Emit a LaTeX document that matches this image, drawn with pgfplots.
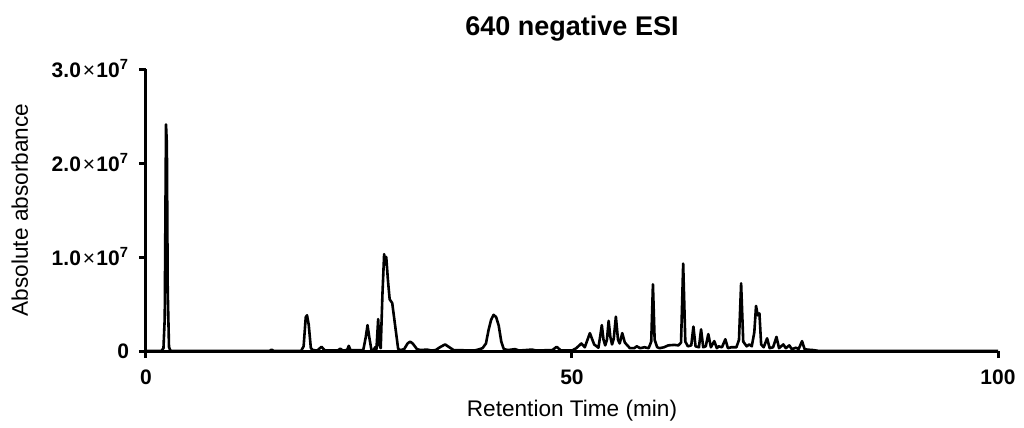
\documentclass[border=0pt]{standalone}
\usepackage{fontspec}
\setmainfont{Liberation Sans}
\usepackage{pgfplots}
\pgfplotsset{compat=1.18}

% chromatogram trace, y in units of 1e6
\pgfplotstableread{
t y
0 0
1.8 0
2.05 0.3
2.2 3.5
2.35 24.1
2.45 22
2.55 6.5
2.7 0.4
2.9 0
14.5 0
14.75 0.15
15 0
18.2 0
18.5 0.5
18.75 3.6
18.9 3.8
19.1 2.8
19.35 0.3
19.6 0.1
20.1 0.05
20.6 0.45
21.0 0.05
22.5 0.05
22.8 0.25
23.1 0.05
23.6 0.1
23.8 0.55
24.0 0.1
25.5 0.1
25.8 1.5
26.0 2.75
26.2 1.5
26.45 0.15
26.7 0.1
26.9 0.4
27.05 0.2
27.25 3.4
27.4 0.6
27.55 0.3
27.75 6.0
27.95 10.3
28.1 9.2
28.2 10.0
28.4 7.5
28.6 5.5
28.9 5.1
29.2 3.0
29.6 0.2
29.9 0.1
30.3 0.2
30.7 0.8
31.0 1.0
31.3 0.8
31.8 0.2
32.2 0.1
33.0 0.15
33.5 0.05
34.0 0.1
34.5 0.4
35.1 0.7
35.6 0.4
36.1 0.1
38.5 0.05
39.0 0.15
39.5 0.3
39.9 0.8
40.2 2.2
40.5 3.3
40.8 3.85
41.1 3.6
41.4 2.7
41.7 1.0
42.0 0.2
42.5 0.1
43.3 0.2
43.8 0.05
45.3 0.15
45.8 0.05
47.7 0.1
48.2 0.45
48.7 0.05
50.0 0.05
50.5 0.3
51.1 0.8
51.5 0.4
52.1 1.9
52.6 0.7
53.1 0.35
53.3 1.5
53.5 2.75
53.7 1.2
53.9 0.6
54.1 1.2
54.3 3.2
54.5 1.5
54.7 0.7
54.9 1.3
55.15 3.65
55.4 1.2
55.6 0.8
55.9 1.9
56.2 0.9
56.5 0.6
56.8 0.3
57.3 0.3
57.6 0.5
58.0 0.3
58.5 0.4
59.0 0.3
59.3 1.0
59.5 7.1
59.7 1.2
60.0 0.4
60.3 0.3
60.8 0.4
61.3 0.6
62.0 0.65
62.5 0.6
62.8 0.9
63.05 9.3
63.3 1.0
63.6 0.5
64.0 0.6
64.25 2.6
64.5 0.5
64.9 0.4
65.15 2.3
65.4 0.4
65.7 0.5
66.0 1.8
66.3 0.4
66.7 1.05
67.0 0.3
67.2 0.5
67.6 0.4
68.0 1.25
68.3 0.3
68.7 0.4
69.3 0.4
69.6 1.2
69.85 7.2
70.1 1.0
70.5 0.5
70.8 0.7
71.1 0.5
71.4 2.0
71.6 4.8
71.8 3.8
72.0 4.0
72.2 0.7
72.5 0.4
72.9 1.35
73.2 0.3
73.6 0.4
74.0 1.5
74.3 0.3
74.8 0.7
75.1 0.3
75.5 0.6
75.8 0.2
76.3 0.35
76.6 0.2
77.0 1.05
77.3 0.2
77.6 0.15
78.3 0.1
79.0 0
100 0
}\esitrace

\newcommand{\sci}[1]{\textbf{#1}\kern1pt×\kern0.6pt\textbf{10\textsuperscript{7}}}

\begin{document}
\begin{tikzpicture}
\begin{axis}[
    at={(0,0)}, anchor=south west,
    scale only axis,
    width=426pt, height=141pt,
    xmin=0, xmax=100,
    ymin=0, ymax=30,
    axis x line*=bottom,
    axis y line*=left,
    axis line style={line width=1.5pt},
    tick align=outside,
    major tick length=3.5pt,
    every tick/.style={black, line width=1.5pt},
    xtick={0,50,100},
    ytick={0,10,20,30},
    xticklabels={\textbf{0},\textbf{50},\textbf{100}},
    yticklabels={\textbf{0},\sci{1.0},\sci{2.0},\sci{3.0}},
    tick label style={font=\fontsize{10.5}{12}\selectfont},
    yticklabel style={xshift=-1.5pt},
    xticklabel style={yshift=-2.5pt},
    title={\textbf{640 negative ESI}},
    title style={font=\fontsize{13.5}{15}\selectfont, yshift=4.5pt},
    xlabel={Retention Time (min)},
    ylabel={Absolute absorbance},
    label style={font=\fontsize{11.3}{13}\selectfont},
    xlabel style={yshift=-0.5pt},
    ylabel shift=5pt,
    clip=false,
]
\addplot[black, line width=1.3pt, line join=round] table[x=t, y=y] {\esitrace};
\end{axis}
\path (-73pt,-35pt) rectangle (439pt,175.5pt);
\end{tikzpicture}
\end{document}
